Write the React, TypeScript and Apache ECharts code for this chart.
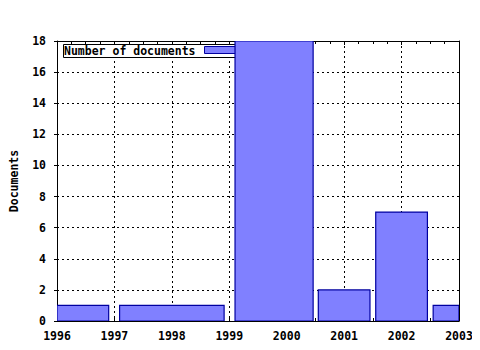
import React, { useEffect, useRef } from "react";
import * as echarts from "echarts";

const barStarts = [1996.0, 1997.09, 1999.1, 2000.55, 2001.55, 2002.55];
const barEnds = [1996.9, 1998.91, 2000.46, 2001.45, 2002.45, 2003.45];
const barValues = [1, 1, 18, 2, 7, 1];
const yTicks = [0, 2, 4, 6, 8, 10, 12, 14, 16, 18];
const years = [1996, 1997, 1998, 1999, 2000, 2001, 2002, 2003];
const seriesName = "Number of documents";
const yTitle = "Documents";

const FONT = "'DejaVu Sans Mono', monospace";

export default function App() {
  const ref = useRef<HTMLDivElement>(null);
  useEffect(() => {
    if (!ref.current) return;
    const chart = echarts.init(ref.current, null, { renderer: "svg" });
    const data = barValues.map((v, i) => [barStarts[i], barEnds[i], v]);
    const labelStyle = { color: "#000", fontFamily: FONT, fontWeight: "bold" as const, fontSize: 11.5 };
    chart.setOption({
      animation: false,
      backgroundColor: "#fff",
      grid: { left: 57, right: 21, top: 41, bottom: 29, containLabel: false },
      xAxis: [
        {
          type: "value",
          min: years[0],
          max: years[years.length - 1],
          interval: 1,
          position: "bottom",
          axisLine: { show: true, onZero: false, lineStyle: { color: "#000", width: 1 } },
          axisTick: { show: true, inside: true, length: 4, lineStyle: { color: "#000" } },
          minorTick: { show: true, splitNumber: 4, length: 3, lineStyle: { color: "#000" } },
          axisLabel: { ...labelStyle, margin: 9, formatter: (v: number) => String(v) },
          splitLine: { show: true, lineStyle: { color: "#000", type: [2, 3], width: 1 } },
        },
        {
          type: "value",
          min: years[0],
          max: years[years.length - 1],
          interval: 1,
          position: "top",
          axisLine: { show: true, onZero: false, lineStyle: { color: "#000", width: 1 } },
          axisTick: { show: true, inside: true, length: 4, lineStyle: { color: "#000" } },
          minorTick: { show: true, splitNumber: 4, length: 3, lineStyle: { color: "#000" } },
          axisLabel: { show: false },
          splitLine: { show: false },
        },
      ],
      yAxis: [
        {
          type: "value",
          min: yTicks[0],
          max: yTicks[yTicks.length - 1],
          interval: 2,
          position: "left",
          name: yTitle,
          nameLocation: "middle",
          nameGap: 37,
          nameRotate: 90,
          nameTextStyle: { ...labelStyle },
          axisLine: { show: true, onZero: false, lineStyle: { color: "#000", width: 1 } },
          axisTick: { show: true, inside: false, length: 3, lineStyle: { color: "#000" } },
          axisLabel: { ...labelStyle, margin: 11 },
          splitLine: { show: true, lineStyle: { color: "#000", type: [2, 3], width: 1 } },
        },
        {
          type: "value",
          min: yTicks[0],
          max: yTicks[yTicks.length - 1],
          interval: 2,
          position: "right",
          axisLine: { show: true, onZero: false, lineStyle: { color: "#000", width: 1 } },
          axisTick: { show: false },
          axisLabel: { show: false },
          splitLine: { show: false },
        },
      ],
      graphic: [
        {
          type: "rect",
          z: 1,
          shape: { x: 63.5, y: 44.5, width: 175, height: 13 },
          style: { fill: "#fff", stroke: "#000", lineWidth: 1 },
        },
        {
          type: "text",
          z: 1,
          x: 64,
          y: 51,
          style: {
            text: seriesName,
            fill: "#000",
            font: `bold 11.5px ${FONT}`,
            verticalAlign: "middle",
            align: "left",
          },
        },
        {
          type: "rect",
          z: 1,
          shape: { x: 204.5, y: 46.5, width: 31, height: 7 },
          style: { fill: "#8080ff", stroke: "#0000a0", lineWidth: 1 },
        },
      ],
      series: [
        {
          type: "custom",
          name: seriesName,
          z: 5,
          clip: true,
          xAxisIndex: 0,
          yAxisIndex: 0,
          data,
          renderItem: (params: any, api: any) => {
            const p0 = api.coord([api.value(0), api.value(2)]);
            const p1 = api.coord([api.value(1), 0]);
            const shape = echarts.graphic.clipRectByRect(
              { x: p0[0], y: p0[1], width: p1[0] - p0[0], height: p1[1] - p0[1] },
              {
                x: params.coordSys.x,
                y: params.coordSys.y,
                width: params.coordSys.width,
                height: params.coordSys.height,
              }
            );
            return shape
              ? {
                  type: "rect",
                  shape,
                  style: { fill: "#8080ff", stroke: "#0000a0", lineWidth: 1.2 },
                }
              : null;
          },
        },
      ],
    });
    return () => chart.dispose();
  }, []);
  return <div ref={ref} style={{ width: 480, height: 350, marginLeft: -8, marginTop: -8 }} />;
}
